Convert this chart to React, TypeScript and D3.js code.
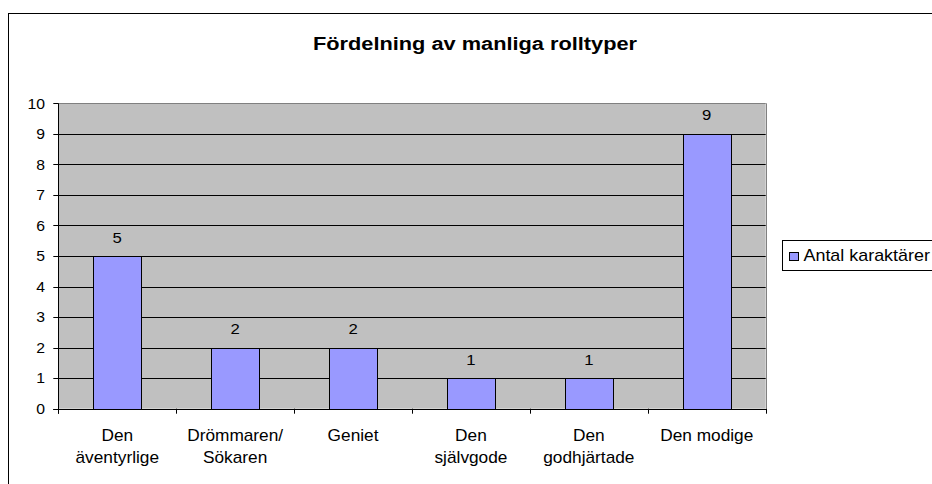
import React from "react";
import * as d3 from "d3";

const categories: string[][] = [
  ["Den", "äventyrlige"],
  ["Drömmaren/", "Sökaren"],
  ["Geniet"],
  ["Den", "självgode"],
  ["Den", "godhjärtade"],
  ["Den modige"],
];
const values: number[] = [5, 2, 2, 1, 1, 9];
const yTicks: number[] = [0, 1, 2, 3, 4, 5, 6, 7, 8, 9, 10];
const title = "Fördelning av manliga rolltyper";
const seriesName = "Antal karaktärer";

const W = 932;
const H = 484;
const FONT = "'Liberation Sans', Arial, Helvetica, sans-serif";

function SText(props: {
  x: number;
  y: number;
  sx?: number;
  size: number;
  anchor?: string;
  weight?: string;
  children: React.ReactNode;
}) {
  const { x, y, sx = 1.1, size, anchor = "middle", weight = "normal" } = props;
  return (
    <text
      transform={`translate(${x},${y}) scale(${sx},1)`}
      textAnchor={anchor}
      fontSize={size}
      fontWeight={weight}
      fontFamily={FONT}
      fill="#000"
    >
      {props.children}
    </text>
  );
}

export default function App() {
  const x0 = 58.3;
  const x1 = 765.7;
  const yTop = 103.3;
  const yBot = 408.7;

  const x = d3
    .scaleBand<number>()
    .domain(d3.range(categories.length))
    .range([x0, x1])
    .paddingInner(0.59)
    .paddingOuter(0.295);
  const step = (x1 - x0) / categories.length;
  const y = d3.scaleLinear().domain([0, 10]).range([yBot, yTop]);

  return (
    <svg
      width={W}
      height={H}
      style={{ position: "absolute", left: 0, top: 0, background: "#fff" }}
    >
      <rect x={0} y={0} width={W} height={H} fill="#fff" />
      {/* outer chart border */}
      <rect x={8.5} y={13.5} width={1000} height={1000} fill="none" stroke="#000" strokeWidth={1} />

      <SText x={475} y={49.5} size={18} weight="bold" sx={1.21}>
        {title}
      </SText>

      {/* plot area */}
      <rect x={x0} y={yTop} width={x1 - x0} height={yBot - yTop} fill="#C0C0C0" />
      {yTicks
        .filter((t) => t > 0 && t < 10)
        .map((t) => (
          <line key={"g" + t} x1={x0} x2={x1} y1={Math.round(y(t)) + 0.5} y2={Math.round(y(t)) + 0.5} stroke="#000" strokeWidth={1} />
        ))}
      {/* plot border top/right */}
      <line x1={x0} x2={x1} y1={Math.round(yTop) + 0.5} y2={Math.round(yTop) + 0.5} stroke="#808080" />
      <line x1={Math.round(x1) + 0.5} x2={Math.round(x1) + 0.5} y1={yTop} y2={yBot} stroke="#808080" />

      {/* bars */}
      {values.map((v, i) => (
        <rect
          key={"b" + i}
          x={Math.round(x(i)!) + 0.5}
          y={Math.round(y(v)) + 0.5}
          width={Math.round(x.bandwidth())}
          height={Math.round(y(0)) - Math.round(y(v))}
          fill="#9999FF"
          stroke="#000"
          strokeWidth={1}
        />
      ))}

      {/* axes */}
      <line x1={Math.round(x0) + 0.5} x2={Math.round(x0) + 0.5} y1={yTop} y2={yBot + 5} stroke="#000" />
      <line x1={x0 - 5} x2={x1 + 0.5} y1={Math.round(yBot) + 0.5} y2={Math.round(yBot) + 0.5} stroke="#000" />
      {yTicks.map((t) => (
        <g key={"yt" + t}>
          <line x1={x0 - 5} x2={x0} y1={Math.round(y(t)) + 0.5} y2={Math.round(y(t)) + 0.5} stroke="#000" />
          <SText x={45} y={y(t) + 5.3} size={15} anchor="end" sx={1.05}>
            {t}
          </SText>
        </g>
      ))}
      {d3.range(categories.length + 1).map((i) => (
        <line
          key={"xt" + i}
          x1={Math.round(x0 + i * step) + 0.5}
          x2={Math.round(x0 + i * step) + 0.5}
          y1={yBot}
          y2={yBot + 5}
          stroke="#000"
        />
      ))}

      {/* value labels */}
      {values.map((v, i) => (
        <SText key={"v" + i} x={x(i)! + x.bandwidth() / 2} y={y(v) - 13.5} size={15.5} sx={1.08}>
          {v}
        </SText>
      ))}

      {/* category labels */}
      {categories.map((lines, i) =>
        lines.map((ln, j) => (
          <SText key={"c" + i + "_" + j} x={x0 + (i + 0.5) * step} y={441 + j * 22} size={16} sx={1.08}>
            {ln}
          </SText>
        ))
      )}

      {/* legend */}
      <rect x={782.5} y={240.5} width={300} height={30} fill="#fff" stroke="#000" />
      <rect x={789.5} y={252.5} width={9} height={8} fill="#9999FF" stroke="#000" />
      <SText x={803.5} y={261} size={16} anchor="start" sx={1.12}>
        {seriesName}
      </SText>
    </svg>
  );
}
